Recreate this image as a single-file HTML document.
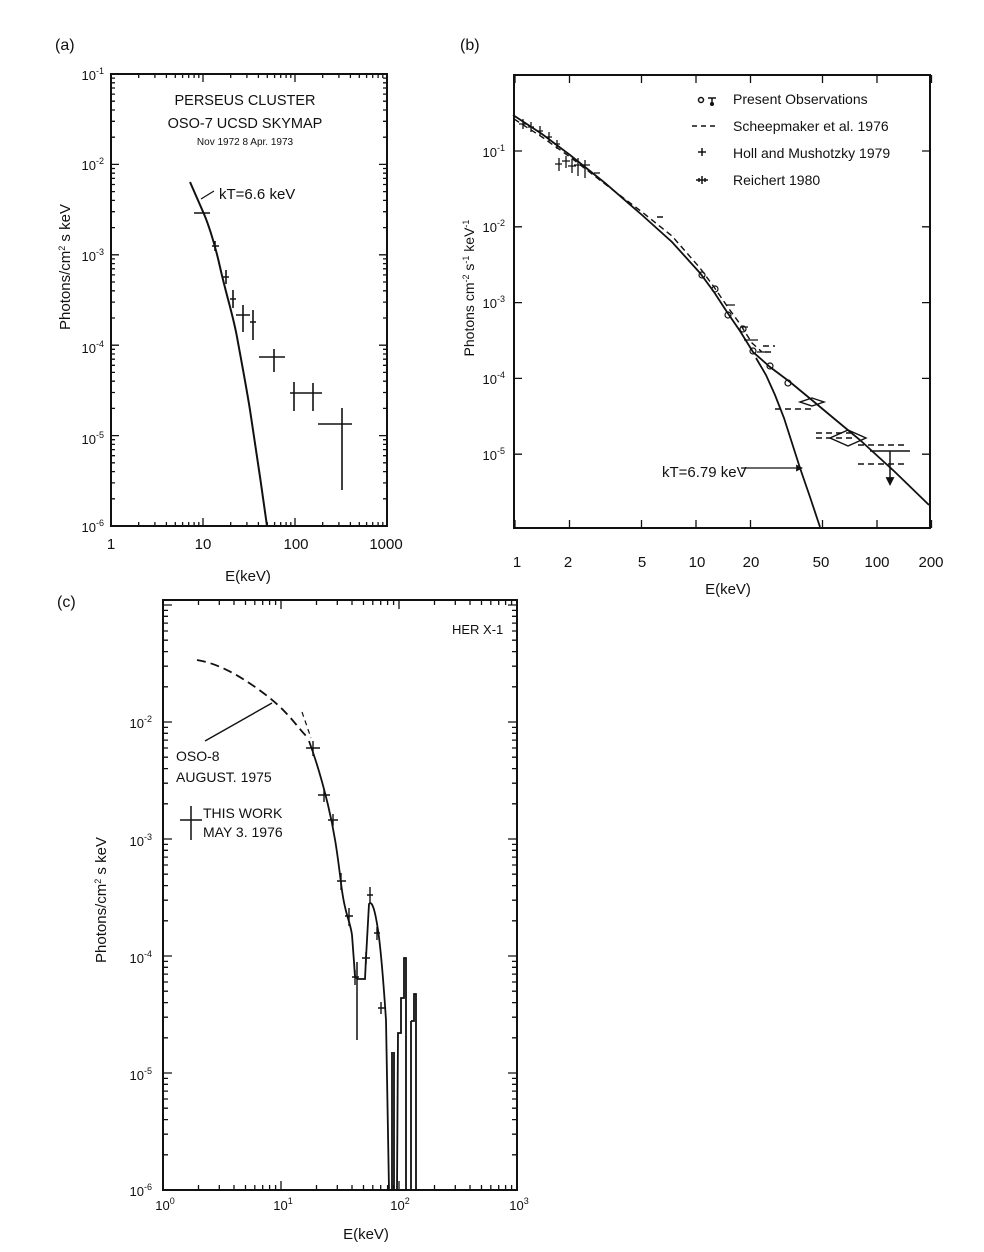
<!DOCTYPE html>
<html><head><meta charset="utf-8">
<style>
html,body{margin:0;padding:0;background:#fff;}
svg{display:block;}
text{font-family:"Liberation Sans",sans-serif;fill:#111;}
</style></head>
<body>
<svg id="s" width="984" height="1252" viewBox="0 0 984 1252" xmlns="http://www.w3.org/2000/svg">
<g id="ticks" stroke="#111" stroke-width="1.3" fill="none"></g>
<g stroke="#111" fill="none" stroke-width="2">
<rect x="111" y="74" width="276" height="452"/>
<rect x="514" y="75" width="416" height="453"/>
<rect x="163" y="600" width="354" height="590"/>
</g>

<!-- Panel (a) -->
<text x="55" y="50" font-size="16">(a)</text>
<g font-size="13" text-anchor="end">
<text x="104" y="80">10<tspan dy="-6" font-size="9">-1</tspan></text>
<text x="104" y="170">10<tspan dy="-6" font-size="9">-2</tspan></text>
<text x="104" y="261">10<tspan dy="-6" font-size="9">-3</tspan></text>
<text x="104" y="353">10<tspan dy="-6" font-size="9">-4</tspan></text>
<text x="104" y="444">10<tspan dy="-6" font-size="9">-5</tspan></text>
<text x="104" y="532">10<tspan dy="-6" font-size="9">-6</tspan></text>
</g>
<g font-size="15" text-anchor="middle">
<text x="111" y="549">1</text><text x="203" y="549">10</text><text x="296" y="549">100</text><text x="386" y="549">1000</text>
<text x="248" y="581">E(keV)</text>
</g>
<text transform="translate(70,267) rotate(-90)" font-size="15" text-anchor="middle">Photons/cm<tspan dy="-5" font-size="9">2</tspan><tspan dy="5"> s keV</tspan></text>
<text x="245" y="105" font-size="14.5" text-anchor="middle">PERSEUS CLUSTER</text>
<text x="245" y="128" font-size="14.5" text-anchor="middle">OSO-7 UCSD SKYMAP</text>
<text x="245" y="145" font-size="10" text-anchor="middle">Nov 1972 8 Apr. 1973</text>
<text x="219" y="199" font-size="15">kT=6.6 keV</text>
<g stroke="#111" fill="none" stroke-width="2">
<path d="M190,182 C197,198 201,207 204,214 S214,240 220,267 S233,315 237,337 S246,385 250,410 S262,490 267,526"/>
<path stroke-width="1.2" d="M201,199 L214,191"/>
</g>
<g stroke="#111" stroke-width="1.6">
<path d="M194,213H210 M212,246H219 M215,241V251 M223,277H229 M226,270V284 M230,299H236 M233,290V308 M236,315H250 M243,305V332 M250,322H256 M253,310V340 M259,357H285 M274,349V372 M290,393H300 M294,382V411 M297,393H322 M313,383V411 M318,424H352 M342,408V490"/>
</g>

<!-- Panel (b) -->
<text x="460" y="50" font-size="16">(b)</text>
<g font-size="13" text-anchor="end">
<text x="505" y="157">10<tspan dy="-6" font-size="9">-1</tspan></text>
<text x="505" y="232">10<tspan dy="-6" font-size="9">-2</tspan></text>
<text x="505" y="308">10<tspan dy="-6" font-size="9">-3</tspan></text>
<text x="505" y="384">10<tspan dy="-6" font-size="9">-4</tspan></text>
<text x="505" y="460">10<tspan dy="-6" font-size="9">-5</tspan></text>
</g>
<g font-size="15" text-anchor="middle">
<text x="517" y="567">1</text><text x="568" y="567">2</text><text x="642" y="567">5</text><text x="697" y="567">10</text><text x="751" y="567">20</text><text x="821" y="567">50</text><text x="877" y="567">100</text><text x="931" y="567">200</text>
<text x="728" y="594">E(keV)</text>
</g>
<text transform="translate(474,288) rotate(-90)" font-size="14" text-anchor="middle">Photons cm<tspan dy="-5" font-size="9">-2</tspan><tspan dy="5"> s</tspan><tspan dy="-5" font-size="9">-1</tspan><tspan dy="5"> keV</tspan><tspan dy="-5" font-size="9">-1</tspan></text>
<g font-size="14">
<text x="733" y="104">Present Observations</text>
<text x="733" y="131">Scheepmaker et al. 1976</text>
<text x="733" y="158">Holl and Mushotzky 1979</text>
<text x="733" y="185">Reichert 1980</text>
<text x="662" y="477" font-size="15">kT=6.79 keV</text>
</g>
<g stroke="#111" fill="none" stroke-width="1.5">
<circle cx="701" cy="100" r="2.5"/>
<path d="M708,98H716 M712,98V104"/><circle cx="712" cy="104" r="1.3" fill="#111"/>
<path d="M692,126H718" stroke-dasharray="5,4"/>
<path d="M698,152H706 M702,148V156"/>
<path d="M696,180H708 M702,176V184 M699,178V182 M705,178V182"/>
</g>
<g stroke="#111" fill="none" stroke-width="1.8">
<path d="M513,115 L542,134 L570,155 L605,183 L642,215 L672,242 L700,273 L714,292 L727,312 L740,331 L753,352 L770,367 L790,382 L813,401 L837,421 L860,440 L895,472 L929,505"/>
<path d="M756,358 L766,375 L775,395 L784,418 L792,443 L800,468 L810,497 L820,527"/>
<path stroke-dasharray="6,4" stroke-width="1.4" d="M514,119 L542,137 L570,157 L605,184 L642,212 L672,236 L700,268 L714,287 L727,306 L740,324 L752,343 L762,352"/>
<path stroke-width="1.2" d="M741,468H796"/>
<path d="M797,466l4,2l-4,2z" fill="#111"/>
<path stroke-dasharray="6,4" stroke-width="1.4" d="M775,409H813 M816,433H852 M816,438H852 M858,445H905 M858,464H905 M765,352H775 M763,346H775 M657,217H664"/>
<path stroke-width="1.4" d="M812,398l12,4l-12,4l-12,-4z M848,430l18,8l-18,8l-18,-8z"/>
<path stroke-width="1.5" d="M870,451H910 M890,451V480"/><path d="M887,478l3,6l3,-6z" fill="#111"/>
<g stroke-width="1.2">
<circle cx="702" cy="275" r="3"/><circle cx="715" cy="289" r="3"/><circle cx="728" cy="315" r="3"/><circle cx="743" cy="329" r="3"/><circle cx="753" cy="351" r="3"/><circle cx="770" cy="366" r="3"/><circle cx="788" cy="383" r="3"/>
</g>
<path stroke-width="1.3" d="M519,124H527 M523,119V129 M528,127H534 M531,122V132 M537,131H543 M540,126V136 M546,137H552 M549,132V142 M554,144H560 M557,140V149 M555,164H562 M559,158V171 M562,161H570 M566,156V168 M568,166H576 M572,159V173 M574,165H584 M578,158V176 M581,165H590 M585,160V178 M594,173H600"/>
<path stroke-width="1.2" d="M726,305H735 M741,327H748 M744,340H758 M757,352H766"/>
</g>

<!-- Panel (c) -->
<text x="57" y="607" font-size="16">(c)</text>
<g font-size="13" text-anchor="end">
<text x="152" y="728">10<tspan dy="-6" font-size="9">-2</tspan></text>
<text x="152" y="846">10<tspan dy="-6" font-size="9">-3</tspan></text>
<text x="152" y="963">10<tspan dy="-6" font-size="9">-4</tspan></text>
<text x="152" y="1080">10<tspan dy="-6" font-size="9">-5</tspan></text>
<text x="152" y="1196">10<tspan dy="-6" font-size="9">-6</tspan></text>
</g>
<g font-size="13" text-anchor="middle">
<text x="165" y="1210">10<tspan dy="-6" font-size="9">0</tspan></text>
<text x="283" y="1210">10<tspan dy="-6" font-size="9">1</tspan></text>
<text x="400" y="1210">10<tspan dy="-6" font-size="9">2</tspan></text>
<text x="519" y="1210">10<tspan dy="-6" font-size="9">3</tspan></text>
<text x="366" y="1239" font-size="15">E(keV)</text>
</g>
<text transform="translate(106,900) rotate(-90)" font-size="15" text-anchor="middle">Photons/cm<tspan dy="-5" font-size="9">2</tspan><tspan dy="5"> s keV</tspan></text>
<g font-size="14">
<text x="452" y="634" font-size="13">HER X-1</text>
<text x="176" y="761">OSO-8</text>
<text x="176" y="782">AUGUST. 1975</text>
<text x="203" y="818">THIS WORK</text>
<text x="203" y="837">MAY 3. 1976</text>
</g>
<g stroke="#111" fill="none" stroke-width="1.8">
<path d="M180,820H202 M191,806V840" stroke-width="1.5"/>
<path d="M205,741L272,703" stroke-width="1.4"/>
<path stroke-dasharray="9,5" d="M197,660 C215,663 235,672 262,692 S295,725 309,739"/>
<path stroke-dasharray="5,4" stroke-width="1.2" d="M302,712L311,738"/>
<path d="M309,741 C316,760 322,780 328,805 S337,850 341,883 S350,920 352,935 L354,962 L355,977 L358,979 L365,979 L366,958 L369,904 C372,900 375,910 378,930 S384,990 386,1020 L389,1190 M392,1052 L392,1190 L394,1190 L394,1052 M397,1190 L398,1033 L401,1033 L401,998 L404,998 L404,958 L406,958 L406,1190 M411,1021 L411,1190 M411,1021 L414,1021 L414,994 L416,994 L416,1190"/>
<path d="M357,962V1040" stroke-width="1.5"/>
<path stroke-width="1.4" d="M306,748H320 M313,741V756 M318,795H330 M324,789V802 M328,820H338 M333,814V826 M337,881H346 M341,873V890 M345,916H353 M349,908V926 M352,977H359 M355,970V985 M362,958H370 M366,952V964 M367,895H373 M370,887V903 M374,933H380 M377,927V940 M378,1008H385 M381,1002V1014"/>
</g>
</svg>
<script>
(function(){
var g=document.getElementById('ticks');var d='';
function L(x1,y1,x2,y2){d+='M'+x1.toFixed(1)+','+y1.toFixed(1)+'L'+x2.toFixed(1)+','+y2.toFixed(1);}
var ax0=111,ax1=387,ay0=74,ay1=526,xdec=92,ydec=90.4;
for(var k=0;k<3;k++)for(var m=1;m<10;m++){var x=ax0+xdec*(k+Math.log10(m));if(x>ax1)continue;var l=m==1?8:4;L(x,ay1,x,ay1-l);L(x,ay0,x,ay0+l);}
for(var k=0;k<5;k++)for(var m=1;m<10;m++){var y=ay1-ydec*(k+Math.log10(m));if(y<ay0)continue;var l=m==1?8:4;L(ax0,y,ax0+l,y);L(ax1,y,ax1-l,y);}
[1,2,5,10,20,50,100,200].forEach(function(e){var x=515+181*Math.log10(e);L(x,528,x,520);L(x,75,x,83);});
for(var k=1;k<=5;k++){var y=75.2+75.8*k;L(514,y,522,y);L(930,y,922,y);}
var cx0=163,cx1=517,cy1=1190,cy0=600,cd=118,cyd=117;
for(var k=0;k<3;k++)for(var m=1;m<10;m++){var x=cx0+cd*(k+Math.log10(m));var l=m==1?9:5;L(x,cy1,x,cy1-l);L(x,cy0,x,cy0+l);}
for(var k=0;k<6;k++)for(var m=1;m<10;m++){var y=cy1-cyd*(k+Math.log10(m));if(y<cy0)continue;var l=m==1?9:5;L(cx0,y,cx0+l,y);L(cx1,y,cx1-l,y);}
var p=document.createElementNS('http://www.w3.org/2000/svg','path');p.setAttribute('d',d);g.appendChild(p);
})();
</script>
</body></html>
